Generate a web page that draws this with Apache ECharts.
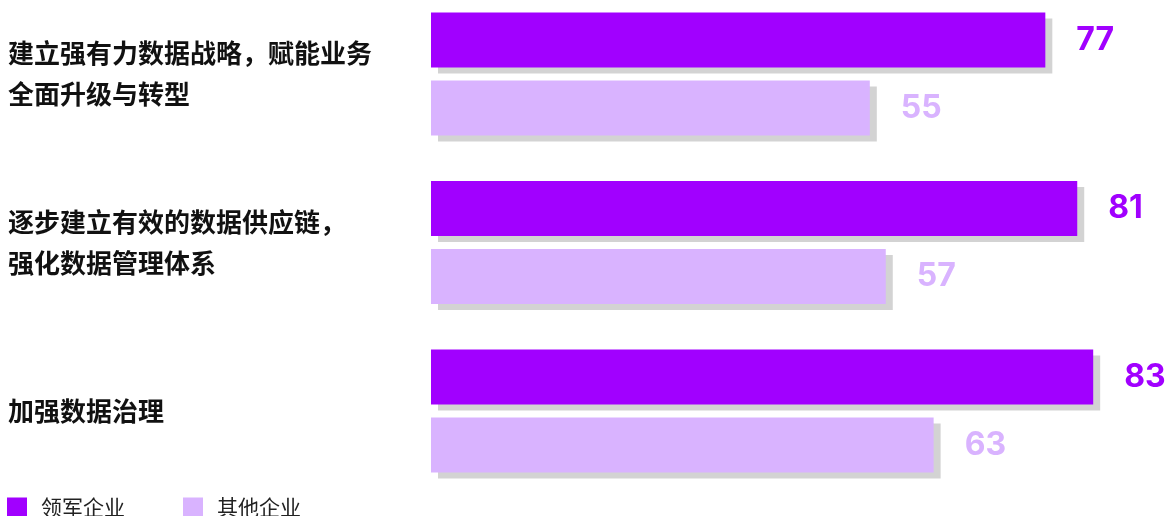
<!DOCTYPE html>
<html>
<head>
<meta charset="utf-8">
<script src="https://cdn.jsdelivr.net/npm/echarts@6/dist/echarts.min.js"></script>
<style>
html,body{margin:0;padding:0;background:#fff;}
#main{width:1165px;height:516px;}
</style>
</head>
<body>
<div id="main"></div>
<script>
const categories = [
  "建立强有力数据战略，赋能业务\n全面升级与转型",
  "逐步建立有效的数据供应链，\n强化数据管理体系",
  "加强数据治理"
];
const seriesNames = ["领军企业", "其他企业"];
const leaderValues = [77, 81, 83];
const otherValues = [55, 57, 63];

const darkColor = "#a100ff";
const lightColor = "#d9b3ff";

const chart = echarts.init(document.getElementById('main'), null, {renderer: 'canvas'});

function makeSeries(name, data, color) {
  return {
    name: name,
    type: 'bar',
    data: data,
    barWidth: 55,
    barGap: '24%',
    itemStyle: {
      color: color,
      shadowColor: '#d3d3d3',
      shadowBlur: 0,
      shadowOffsetX: 7,
      shadowOffsetY: 6
    },
    label: {
      show: true,
      position: 'right',
      distance: 31,
      color: color,
      fontSize: 32,
      fontWeight: 'bold',
      fontFamily: 'Inter, "Noto Sans", sans-serif'
    },
    emphasis: {disabled: true},
    animation: false
  };
}

chart.setOption({
  animation: false,
  grid: {left: 431, top: 74, height: 337, width: 734, containLabel: false},
  xAxis: {
    type: 'value',
    min: 0,
    max: 92,
    show: false
  },
  yAxis: {
    type: 'category',
    data: categories,
    inverse: true,
    boundaryGap: false,
    axisLine: {show: false},
    axisTick: {show: false},
    splitLine: {show: false},
    axisLabel: {
      align: 'left',
      margin: 423,
      color: '#111',
      fontSize: 26,
      fontWeight: 'bold',
      lineHeight: 41,
      fontFamily: '"Noto Sans CJK SC", sans-serif'
    }
  },
  legend: {
    left: 7,
    top: 497,
    padding: 0,
    itemWidth: 20,
    itemHeight: 20,
    itemGap: 58,
    icon: 'rect',
    selectedMode: false,
    textStyle: {
      fontSize: 21,
      color: '#222',
      padding: [0, 0, 0, 9],
      fontFamily: '"Noto Sans CJK SC", sans-serif'
    },
    data: seriesNames
  },
  series: [
    makeSeries(seriesNames[0], leaderValues, darkColor),
    makeSeries(seriesNames[1], otherValues, lightColor)
  ]
});
</script>
</body>
</html>
